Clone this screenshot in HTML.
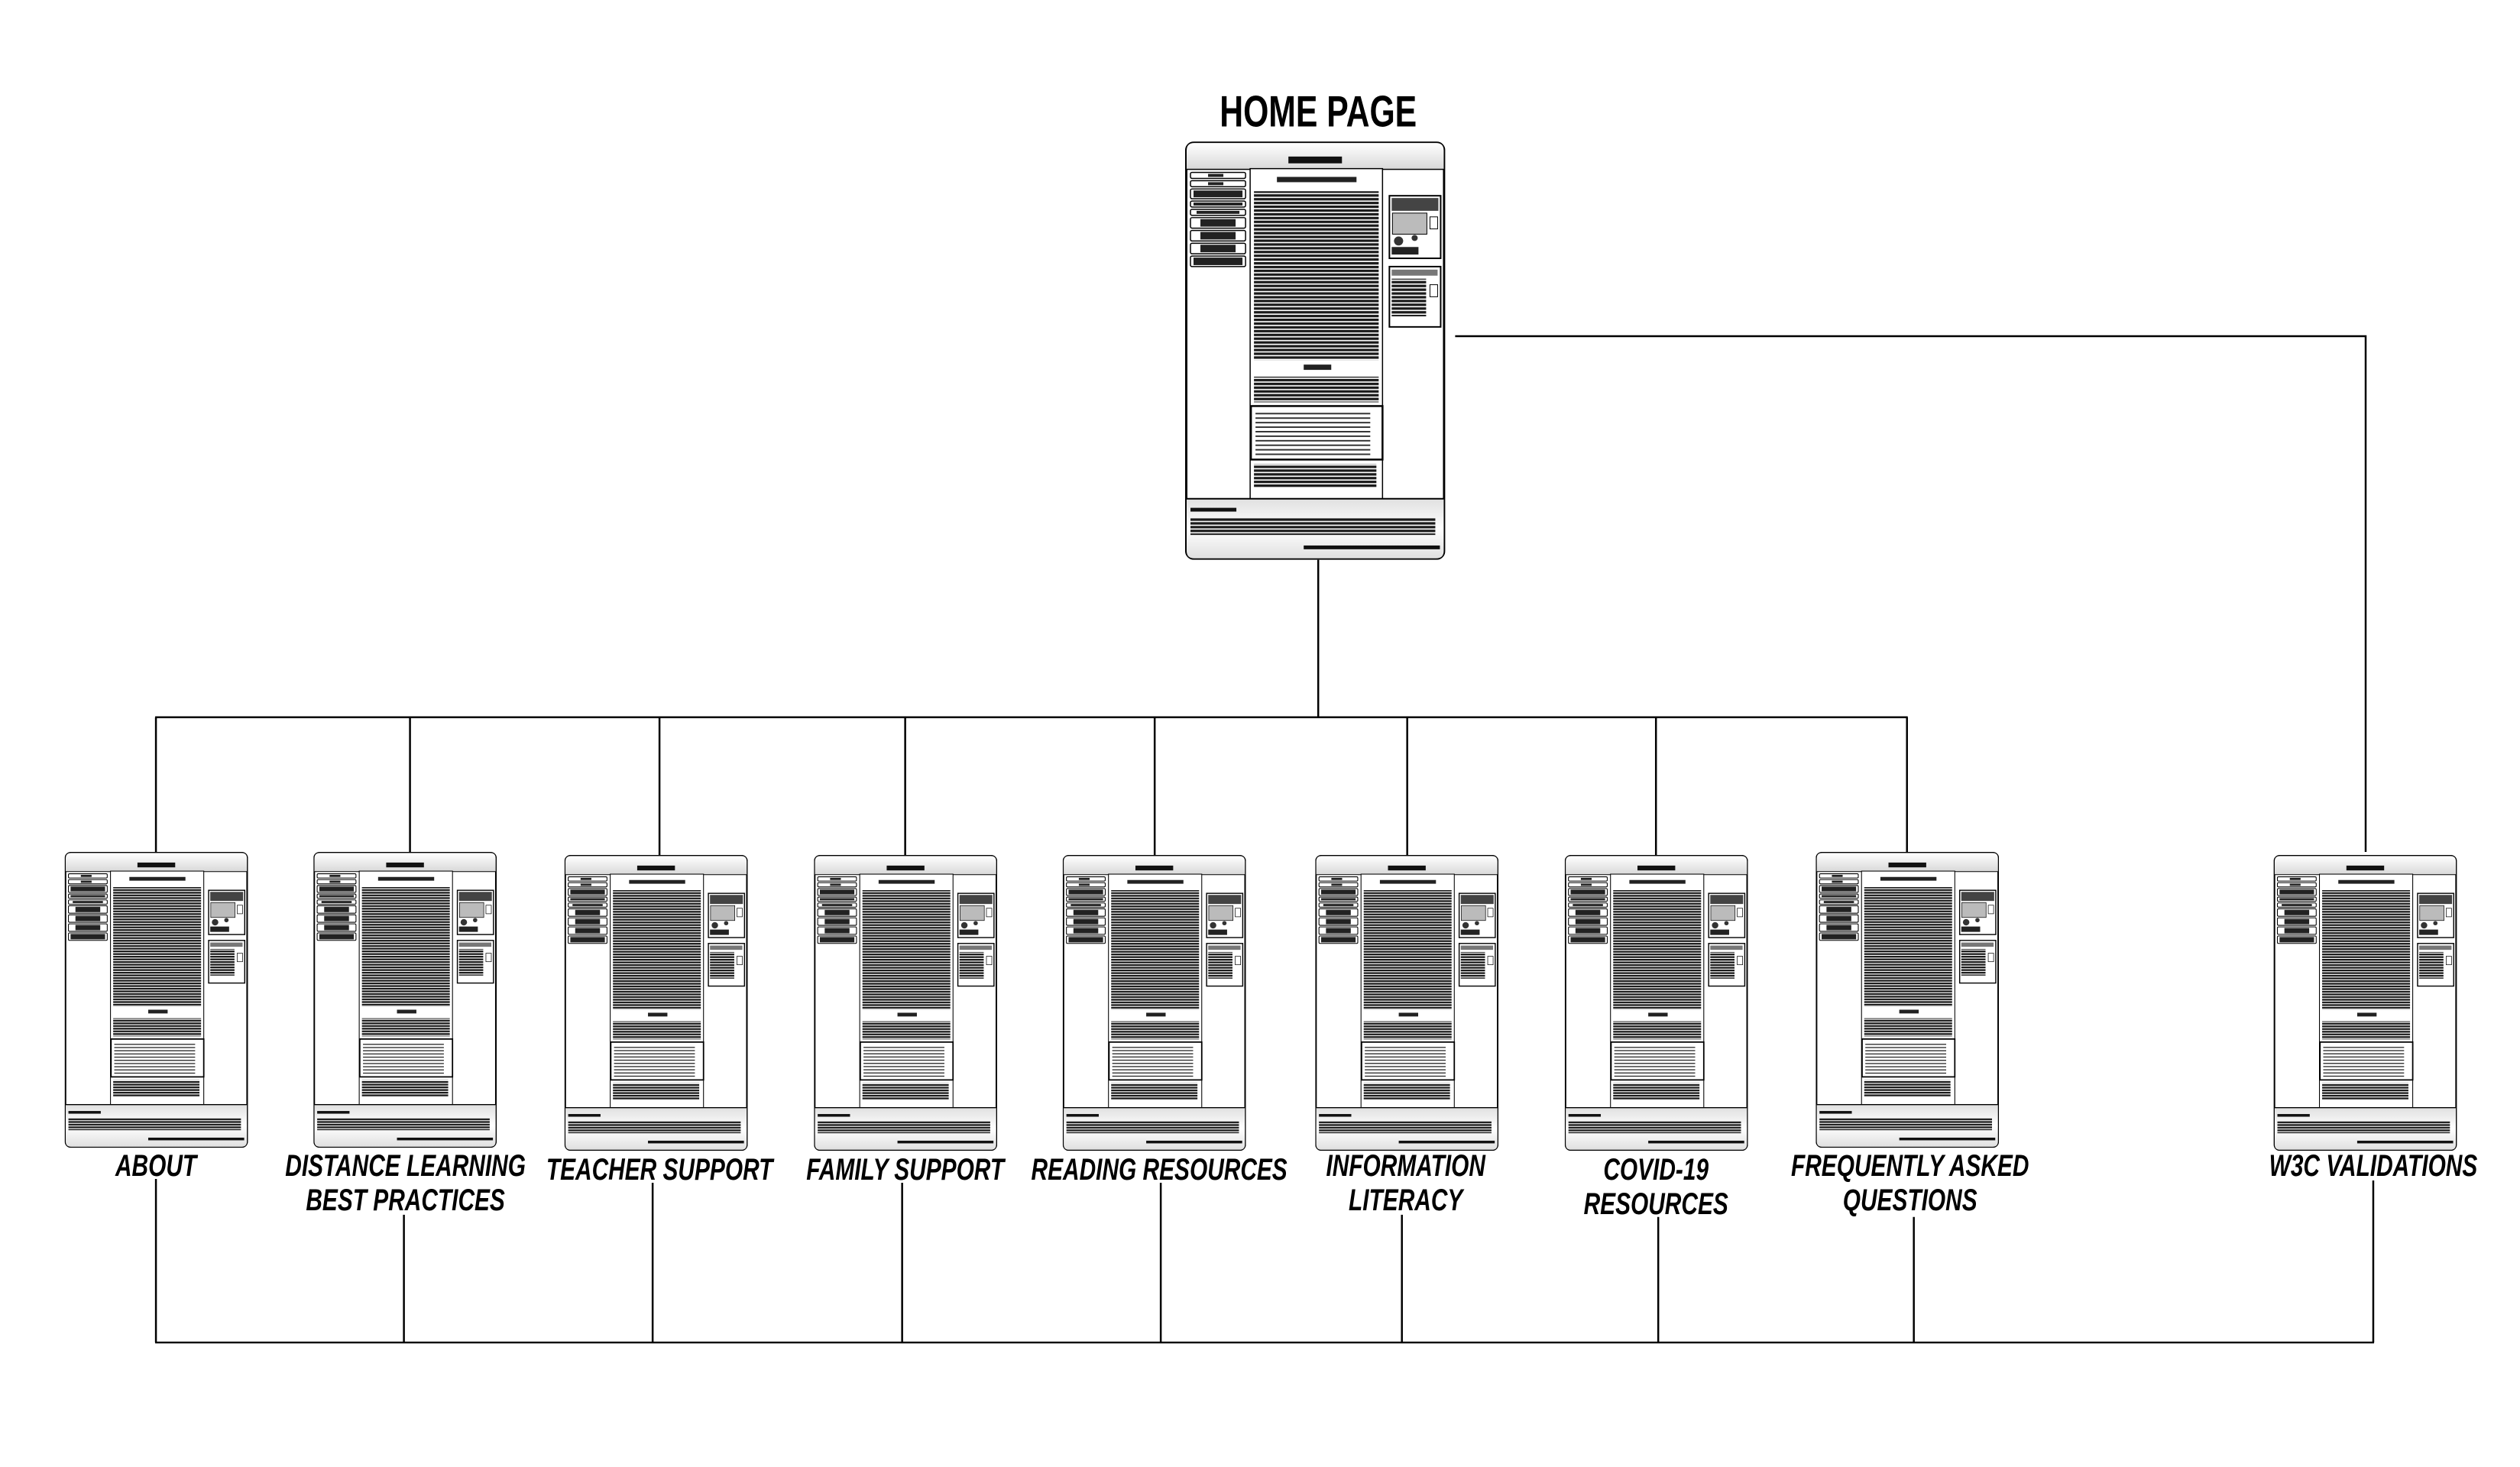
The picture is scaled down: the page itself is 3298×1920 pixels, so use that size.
<!DOCTYPE html>
<html><head><meta charset="utf-8"><style>
html,body{margin:0;padding:0;background:#fff;}
body{width:3298px;height:1920px;position:relative;overflow:hidden;font-family:"Liberation Sans",sans-serif;}
#wrap{position:absolute;left:0;top:0;width:3298px;height:1920px;transform:scale(0.9955);transform-origin:0 0;}
.th{position:absolute;width:241px;height:389px;}
.lab{position:absolute;width:500px;text-align:center;font-weight:bold;font-style:italic;font-size:40px;line-height:45px;color:#000;transform:scaleX(0.75);transform-origin:center top;white-space:nowrap;}
</style></head><body>
<svg width="0" height="0" style="position:absolute">
<defs>
<pattern id="tl" width="4" height="5" patternUnits="userSpaceOnUse"><rect x="0" y="0" width="4" height="3.3" fill="#1a1a1a"/></pattern>
<pattern id="tl2" width="4" height="6" patternUnits="userSpaceOnUse"><rect x="0" y="0" width="4" height="2" fill="#333"/></pattern>
<linearGradient id="hg" x1="0" y1="0" x2="0" y2="1"><stop offset="0" stop-color="#fff"/><stop offset="1" stop-color="#d8d8d8"/></linearGradient>
<linearGradient id="fg" x1="0" y1="0" x2="0" y2="1"><stop offset="0" stop-color="#e0e0e0"/><stop offset="0.5" stop-color="#fff"/><stop offset="1" stop-color="#e0e0e0"/></linearGradient>
<symbol id="pg" viewBox="0 0 340 555">
<rect x="1.5" y="1.5" width="337" height="552" rx="10" fill="#fff" stroke="#000" stroke-width="3"/>
<path d="M2 37 V12 Q2 2 12 2 H328 Q338 2 338 12 V37 Z" fill="url(#hg)"/>
<line x1="2" y1="37" x2="338" y2="37" stroke="#000" stroke-width="1.5"/>
<rect x="135" y="20" width="70" height="9" fill="#111"/>
<g fill="#fff" stroke="#000" stroke-width="1.5">
<rect x="7" y="41" width="72" height="8" rx="2"/><rect x="7" y="52" width="72" height="8" rx="2"/>
<rect x="7" y="63" width="72" height="13" rx="2"/><rect x="7" y="79" width="72" height="8" rx="2"/>
<rect x="7" y="90" width="72" height="8" rx="2"/><rect x="7" y="101" width="72" height="14" rx="2"/>
<rect x="7" y="118" width="72" height="14" rx="2"/><rect x="7" y="135" width="72" height="14" rx="2"/>
<rect x="7" y="152" width="72" height="14" rx="2"/>
<rect x="85" y="36" width="173" height="438"/>
<rect x="267" y="72" width="67" height="83" stroke-width="2"/>
<rect x="267" y="166" width="67" height="80" stroke-width="2"/>
</g>
<g fill="#222">
<rect x="30" y="43" width="20" height="4"/><rect x="30" y="54" width="20" height="4"/>
<rect x="11" y="65" width="64" height="9"/><rect x="11" y="81" width="64" height="4"/>
<rect x="15" y="92" width="56" height="4"/><rect x="20" y="103" width="46" height="10"/>
<rect x="20" y="120" width="46" height="10"/><rect x="20" y="137" width="46" height="10"/>
<rect x="11" y="154" width="64" height="10"/>
<rect x="120" y="47" width="104" height="7"/>
<rect x="155" y="296" width="36" height="7"/>
</g>
<rect x="90" y="66" width="163" height="224" fill="url(#tl)"/>
<rect x="90" y="312" width="163" height="34" fill="url(#tl)"/>
<rect x="86" y="351" width="172" height="71" fill="#fff" stroke="#000" stroke-width="2.5"/>
<rect x="92" y="357" width="150" height="60" fill="url(#tl2)"/>
<rect x="90" y="428" width="160" height="32" fill="url(#tl)"/>
<rect x="270" y="75" width="61" height="17" fill="#444"/>
<rect x="271" y="95" width="45" height="28" fill="#bbb" stroke="#000"/>
<rect x="320" y="100" width="10" height="16" fill="#fff" stroke="#000"/>
<circle cx="279" cy="132" r="6" fill="#333"/><circle cx="300" cy="128" r="4" fill="#333"/>
<rect x="270" y="140" width="35" height="10" fill="#222"/>
<rect x="270" y="170" width="60" height="8" fill="#777"/>
<rect x="270" y="182" width="45" height="50" fill="url(#tl)"/>
<rect x="320" y="190" width="10" height="16" fill="#fff" stroke="#000"/>
<path d="M2 474 H338 V543 Q338 553 328 553 H12 Q2 553 2 543 Z" fill="url(#fg)"/>
<line x1="2" y1="474" x2="338" y2="474" stroke="#000" stroke-width="2"/>
<rect x="7" y="486" width="60" height="5" fill="#111"/>
<rect x="7" y="499" width="320" height="23" fill="url(#tl)"/>
<rect x="155" y="536" width="178" height="5" fill="#111"/>
</symbol>
</defs></svg>

<div id="wrap">
<svg style="position:absolute;left:0;top:0" width="3298" height="1920">
<g stroke="#000" stroke-width="2.5" fill="none">
<polyline points="1913,442 3110,442 3110,1120"/>
<line x1="1733" y1="736" x2="1733" y2="943"/>
<line x1="204" y1="943" x2="2508" y2="943"/>
<line x1="205" y1="943" x2="205" y2="1120"/>
<line x1="539" y1="943" x2="539" y2="1120"/>
<line x1="867" y1="943" x2="867" y2="1124"/>
<line x1="1190" y1="943" x2="1190" y2="1124"/>
<line x1="1518" y1="943" x2="1518" y2="1124"/>
<line x1="1850" y1="943" x2="1850" y2="1124"/>
<line x1="2177" y1="943" x2="2177" y2="1124"/>
<line x1="2507" y1="943" x2="2507" y2="1120"/>
<line x1="204" y1="1765" x2="3121" y2="1765"/>
<line x1="205" y1="1550" x2="205" y2="1765"/>
<line x1="531" y1="1597" x2="531" y2="1765"/>
<line x1="858" y1="1555" x2="858" y2="1765"/>
<line x1="1186" y1="1555" x2="1186" y2="1765"/>
<line x1="1526" y1="1555" x2="1526" y2="1765"/>
<line x1="1843" y1="1597" x2="1843" y2="1765"/>
<line x1="2180" y1="1600" x2="2180" y2="1765"/>
<line x1="2516" y1="1600" x2="2516" y2="1765"/>
<line x1="3120" y1="1552" x2="3120" y2="1765"/>
</g>
</svg>

<div style="position:absolute;left:1483px;top:114px;width:500px;text-align:center;font-weight:bold;font-size:58px;line-height:66px;transform:scaleX(0.74);">HOME PAGE</div>
<svg style="position:absolute;left:1558px;top:186px" width="342" height="550" viewBox="0 0 340 555" preserveAspectRatio="none"><use href="#pg"/></svg>

<svg class="th" style="left:85px;top:1120px" viewBox="0 0 340 555" preserveAspectRatio="none"><use href="#pg"/></svg>
<svg class="th" style="left:412px;top:1120px" viewBox="0 0 340 555" preserveAspectRatio="none"><use href="#pg"/></svg>
<svg class="th" style="left:742px;top:1124px" viewBox="0 0 340 555" preserveAspectRatio="none"><use href="#pg"/></svg>
<svg class="th" style="left:1070px;top:1124px" viewBox="0 0 340 555" preserveAspectRatio="none"><use href="#pg"/></svg>
<svg class="th" style="left:1397px;top:1124px" viewBox="0 0 340 555" preserveAspectRatio="none"><use href="#pg"/></svg>
<svg class="th" style="left:1729px;top:1124px" viewBox="0 0 340 555" preserveAspectRatio="none"><use href="#pg"/></svg>
<svg class="th" style="left:2057px;top:1124px" viewBox="0 0 340 555" preserveAspectRatio="none"><use href="#pg"/></svg>
<svg class="th" style="left:2387px;top:1120px" viewBox="0 0 340 555" preserveAspectRatio="none"><use href="#pg"/></svg>
<svg class="th" style="left:2989px;top:1124px" viewBox="0 0 340 555" preserveAspectRatio="none"><use href="#pg"/></svg>

<div class="lab" style="left:-45px;top:1511px">ABOUT</div>
<div class="lab" style="left:283px;top:1511px">DISTANCE LEARNING<br>BEST PRACTICES</div>
<div class="lab" style="left:617px;top:1516px">TEACHER SUPPORT</div>
<div class="lab" style="left:940px;top:1516px">FAMILY SUPPORT</div>
<div class="lab" style="left:1274px;top:1516px">READING RESOURCES</div>
<div class="lab" style="left:1598px;top:1511px">INFORMATION<br>LITERACY</div>
<div class="lab" style="left:1927px;top:1516px">COVID-19<br>RESOURCES</div>
<div class="lab" style="left:2261px;top:1511px">FREQUENTLY ASKED<br>QUESTIONS</div>
<div class="lab" style="left:2870px;top:1511px">W3C VALIDATIONS</div>
</div>
</body></html>
